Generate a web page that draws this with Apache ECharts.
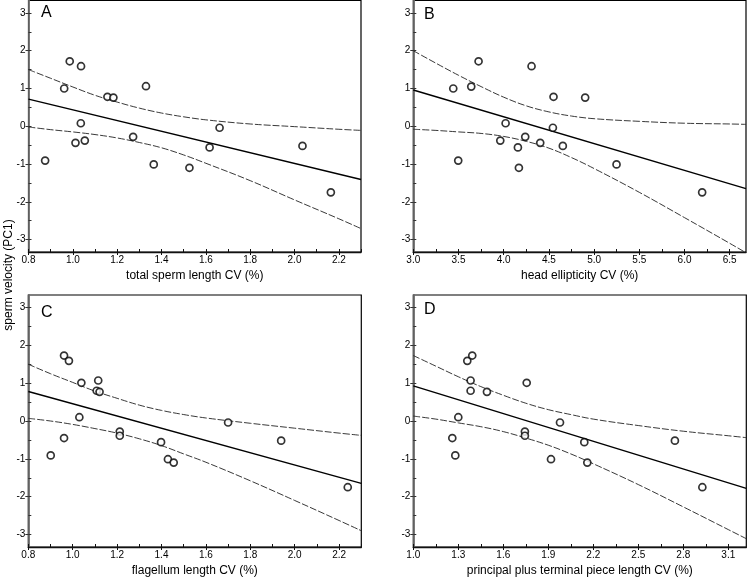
<!DOCTYPE html>
<html>
<head>
<meta charset="utf-8">
<script src="https://cdn.jsdelivr.net/npm/echarts@6/dist/echarts.min.js"></script>
<style>
html,body{margin:0;padding:0;background:#fff;}
#chart{width:747px;height:578px;}
</style>
</head>
<body>
<div id="chart"></div>
<script>
// ---------- data ----------
const panelLetters = ['A', 'B', 'C', 'D'];
const xAxisNames = [
  'total sperm length CV (%)',
  'head ellipticity CV (%)',
  'flagellum length CV (%)',
  'principal plus terminal piece length CV (%)'
];
const yAxisTitle = 'sperm velocity (PC1)';

// panel A
const aX = [0.875, 0.986, 1.037, 0.961, 1.156, 1.183, 1.330, 1.036, 1.012, 1.054, 1.272, 1.365, 1.526, 1.617, 1.662, 2.036, 2.164];
const aY = [-0.91, 1.72, 1.59, 1.00, 0.78, 0.76, 1.06, 0.08, -0.44, -0.38, -0.28, -1.01, -1.10, -0.56, -0.04, -0.52, -1.75];
const aFitX = [0.8, 2.3];
const aFitY = [0.72, -1.41];
const aCiX = [0.8, 0.9, 1.0, 1.1, 1.2, 1.3, 1.4, 1.5, 1.6, 1.8, 2.0, 2.2, 2.3];
const aCiUp = [1.50, 1.27, 1.04, 0.82, 0.64, 0.48, 0.35, 0.25, 0.17, 0.06, -0.01, -0.08, -0.11];
const aCiLo = [-0.02, -0.09, -0.15, -0.22, -0.31, -0.43, -0.57, -0.76, -0.98, -1.44, -1.95, -2.45, -2.71];

// panel B
const bX = [3.442, 3.497, 3.641, 3.722, 3.962, 4.021, 4.157, 4.168, 4.238, 4.308, 4.404, 4.544, 4.551, 4.654, 4.901, 5.248, 6.195];
const bY = [1.00, -0.91, 1.05, 1.72, -0.38, 0.08, -0.56, -1.10, -0.28, 1.59, -0.44, -0.04, 0.78, -0.52, 0.76, -1.01, -1.75];
const bFitX = [3.0, 6.68];
const bFitY = [0.96, -1.65];
const bCiX = [3.0, 3.25, 3.5, 3.75, 4.0, 4.25, 4.5, 4.75, 5.0, 5.5, 6.0, 6.5, 6.68];
const bCiUp = [2.00, 1.67, 1.35, 1.05, 0.77, 0.54, 0.38, 0.27, 0.20, 0.13, 0.08, 0.06, 0.05];
const bCiLo = [-0.08, -0.11, -0.15, -0.19, -0.27, -0.40, -0.58, -0.83, -1.12, -1.75, -2.42, -3.10, -3.35];

// panel C
const cX = [0.901, 0.961, 0.983, 0.961, 1.039, 1.030, 1.115, 1.108, 1.121, 1.212, 1.212, 1.398, 1.429, 1.455, 1.700, 1.939, 2.239];
const cY = [-0.91, 1.73, 1.59, -0.45, 1.01, 0.10, 1.07, 0.80, 0.77, -0.28, -0.39, -0.56, -1.01, -1.10, -0.04, -0.52, -1.75];
const cFitX = [0.8, 2.3];
const cFitY = [0.78, -1.65];
const cCiX = [0.8, 0.9, 1.0, 1.1, 1.2, 1.3, 1.4, 1.5, 1.6, 1.8, 2.0, 2.2, 2.3];
const cCiUp = [1.50, 1.25, 1.02, 0.79, 0.60, 0.42, 0.28, 0.17, 0.08, -0.06, -0.19, -0.32, -0.38];
const cCiLo = [0.07, 0.00, -0.09, -0.20, -0.32, -0.47, -0.65, -0.87, -1.09, -1.58, -2.10, -2.63, -2.90];

// panel D
const dX = [1.260, 1.280, 1.300, 1.360, 1.393, 1.382, 1.382, 1.491, 1.756, 1.744, 1.744, 1.918, 1.978, 2.140, 2.160, 2.744, 2.927];
const dY = [-0.45, -0.91, 0.10, 1.59, 1.73, 1.07, 0.80, 0.77, 1.01, -0.28, -0.39, -1.01, -0.04, -0.56, -1.10, -0.52, -1.75];
const dFitX = [1.0, 3.22];
const dFitY = [0.93, -1.78];
const dCiX = [1.0, 1.15, 1.3, 1.45, 1.6, 1.75, 1.9, 2.05, 2.2, 2.5, 2.8, 3.1, 3.22];
const dCiUp = [1.73, 1.45, 1.17, 0.91, 0.68, 0.47, 0.30, 0.17, 0.05, -0.12, -0.27, -0.39, -0.44];
const dCiLo = [0.13, 0.05, -0.05, -0.15, -0.28, -0.45, -0.64, -0.87, -1.13, -1.68, -2.27, -2.87, -3.11];

// axis ranges and tick values
const xRanges = [[0.8, 2.3], [3.0, 6.68], [0.8, 2.3], [1.0, 3.22]];
const yRange = [-3.33, 3.33];
const xMajorTicks = [
  [0.8, 1.0, 1.2, 1.4, 1.6, 1.8, 2.0, 2.2],
  [3.0, 3.5, 4.0, 4.5, 5.0, 5.5, 6.0, 6.5],
  [0.8, 1.0, 1.2, 1.4, 1.6, 1.8, 2.0, 2.2],
  [1.0, 1.3, 1.6, 1.9, 2.2, 2.5, 2.8, 3.1]
];
const xMinorTicks = [
  [0.8, 0.9, 1.0, 1.1, 1.2, 1.3, 1.4, 1.5, 1.6, 1.7, 1.8, 1.9, 2.0, 2.1, 2.2, 2.3],
  [3.0, 3.25, 3.5, 3.75, 4.0, 4.25, 4.5, 4.75, 5.0, 5.25, 5.5, 5.75, 6.0, 6.25, 6.5],
  [0.8, 0.9, 1.0, 1.1, 1.2, 1.3, 1.4, 1.5, 1.6, 1.7, 1.8, 1.9, 2.0, 2.1, 2.2, 2.3],
  [1.0, 1.15, 1.3, 1.45, 1.6, 1.75, 1.9, 2.05, 2.2, 2.35, 2.5, 2.65, 2.8, 2.95, 3.1]
];
const yMajorTicks = [-3, -2, -1, 0, 1, 2, 3];
const yMinorTicks = [-3, -2.5, -2, -1.5, -1, -0.5, 0, 0.5, 1, 1.5, 2, 2.5, 3];

const panels = [
  {x: aX, y: aY, fx: aFitX, fy: aFitY, cx: aCiX, up: aCiUp, lo: aCiLo},
  {x: bX, y: bY, fx: bFitX, fy: bFitY, cx: bCiX, up: bCiUp, lo: bCiLo},
  {x: cX, y: cY, fx: cFitX, fy: cFitY, cx: cCiX, up: cCiUp, lo: cCiLo},
  {x: dX, y: dY, fx: dFitX, fy: dFitY, cx: dCiX, up: dCiUp, lo: dCiLo}
];

// ---------- layout ----------
const gridBoxes = [
  {left: 28.5, top: 0.5, width: 332.5, height: 251.5},
  {left: 413.3, top: 0.5, width: 332.7, height: 251.5},
  {left: 28.3, top: 295, width: 333, height: 252},
  {left: 413.3, top: 295, width: 333, height: 252}
];
const letterPos = [[41, 13], [424, 15], [41, 313], [424, 310]];

const FONT = 'Liberation Sans, Arial, Helvetica, sans-serif';
const zip = (a, b) => a.map((v, i) => [v, b[i]]);

const grid = [], xAxis = [], yAxis = [], series = [], graphic = [];

panels.forEach((p, i) => {
  const g = gridBoxes[i];
  grid.push(Object.assign({show: true, borderColor: '#000', borderWidth: 1.2, containLabel: false}, g));
  const xr = xRanges[i];
  xAxis.push({
    type: 'value', gridIndex: i, min: xr[0], max: xr[1], position: 'bottom',
    axisLine: {show: true, onZero: false, lineStyle: {color: '#111', width: 1.4}},
    axisTick: {show: true, inside: false, length: 3, customValues: xMajorTicks[i], lineStyle: {color: '#111', width: 1}},
    axisLabel: {show: true, customValues: xMajorTicks[i], formatter: v => v.toFixed(1), fontSize: 10, margin: 3, color: '#000', fontFamily: FONT},
    splitLine: {show: false},
    name: xAxisNames[i], nameLocation: 'middle', nameGap: 18,
    nameTextStyle: {fontSize: 12, color: '#000', fontFamily: FONT}
  });
  xAxis.push({
    type: 'value', gridIndex: i, min: xr[0], max: xr[1], position: 'bottom',
    axisLine: {show: false, onZero: false},
    axisTick: {show: true, inside: true, length: 3, customValues: xMinorTicks[i], lineStyle: {color: '#111', width: 1}},
    axisLabel: {show: false},
    splitLine: {show: false}
  });
  yAxis.push({
    type: 'value', gridIndex: i, min: yRange[0], max: yRange[1], position: 'left',
    axisLine: {show: true, onZero: false, lineStyle: {color: '#6a6a6a', width: 1.8}},
    axisTick: {show: true, inside: false, length: 3, customValues: yMajorTicks, lineStyle: {color: '#333', width: 1}},
    axisLabel: {show: true, customValues: yMajorTicks, fontSize: 10, margin: 3, color: '#000', fontFamily: FONT},
    splitLine: {show: false}
  });
  yAxis.push({
    type: 'value', gridIndex: i, min: yRange[0], max: yRange[1], position: 'left',
    axisLine: {show: false, onZero: false},
    axisTick: {show: true, inside: true, length: 3, customValues: yMinorTicks, lineStyle: {color: '#333', width: 1}},
    axisLabel: {show: false},
    splitLine: {show: false}
  });

  const xi = 2 * i, yi = 2 * i;
  const dashStyle = {color: '#222', width: 0.9, type: [7, 2]};
  series.push({
    type: 'line', xAxisIndex: xi, yAxisIndex: yi, data: zip(p.cx, p.up),
    smooth: 0.4, symbol: 'none', clip: true, lineStyle: dashStyle, z: 2, silent: true
  });
  series.push({
    type: 'line', xAxisIndex: xi, yAxisIndex: yi, data: zip(p.cx, p.lo),
    smooth: 0.4, symbol: 'none', clip: true, lineStyle: dashStyle, z: 2, silent: true
  });
  series.push({
    type: 'line', xAxisIndex: xi, yAxisIndex: yi, data: zip(p.fx, p.fy),
    symbol: 'none', clip: true, lineStyle: {color: '#000', width: 1.4}, z: 3, silent: true
  });
  series.push({
    type: 'scatter', xAxisIndex: xi, yAxisIndex: yi, data: zip(p.x, p.y),
    symbol: 'circle', symbolSize: 7,
    itemStyle: {color: '#fff', borderColor: '#000', borderWidth: 1.7}, z: 4, silent: true
  });

  graphic.push({
    type: 'text', left: letterPos[i][0], top: letterPos[i][1] - 8,
    style: {text: panelLetters[i], fontSize: 16, fontFamily: FONT, fill: '#000'}
  });
});

graphic.push({
  type: 'text', x: 9, y: 275, rotation: Math.PI / 2,
  style: {text: yAxisTitle, fontSize: 12, fontFamily: FONT, fill: '#000', align: 'center', verticalAlign: 'middle'}
});

const chart = echarts.init(document.getElementById('chart'), null, {renderer: 'canvas'});
chart.setOption({
  animation: false,
  backgroundColor: '#fff',
  grid, xAxis, yAxis, series, graphic
});
</script>
</body>
</html>
